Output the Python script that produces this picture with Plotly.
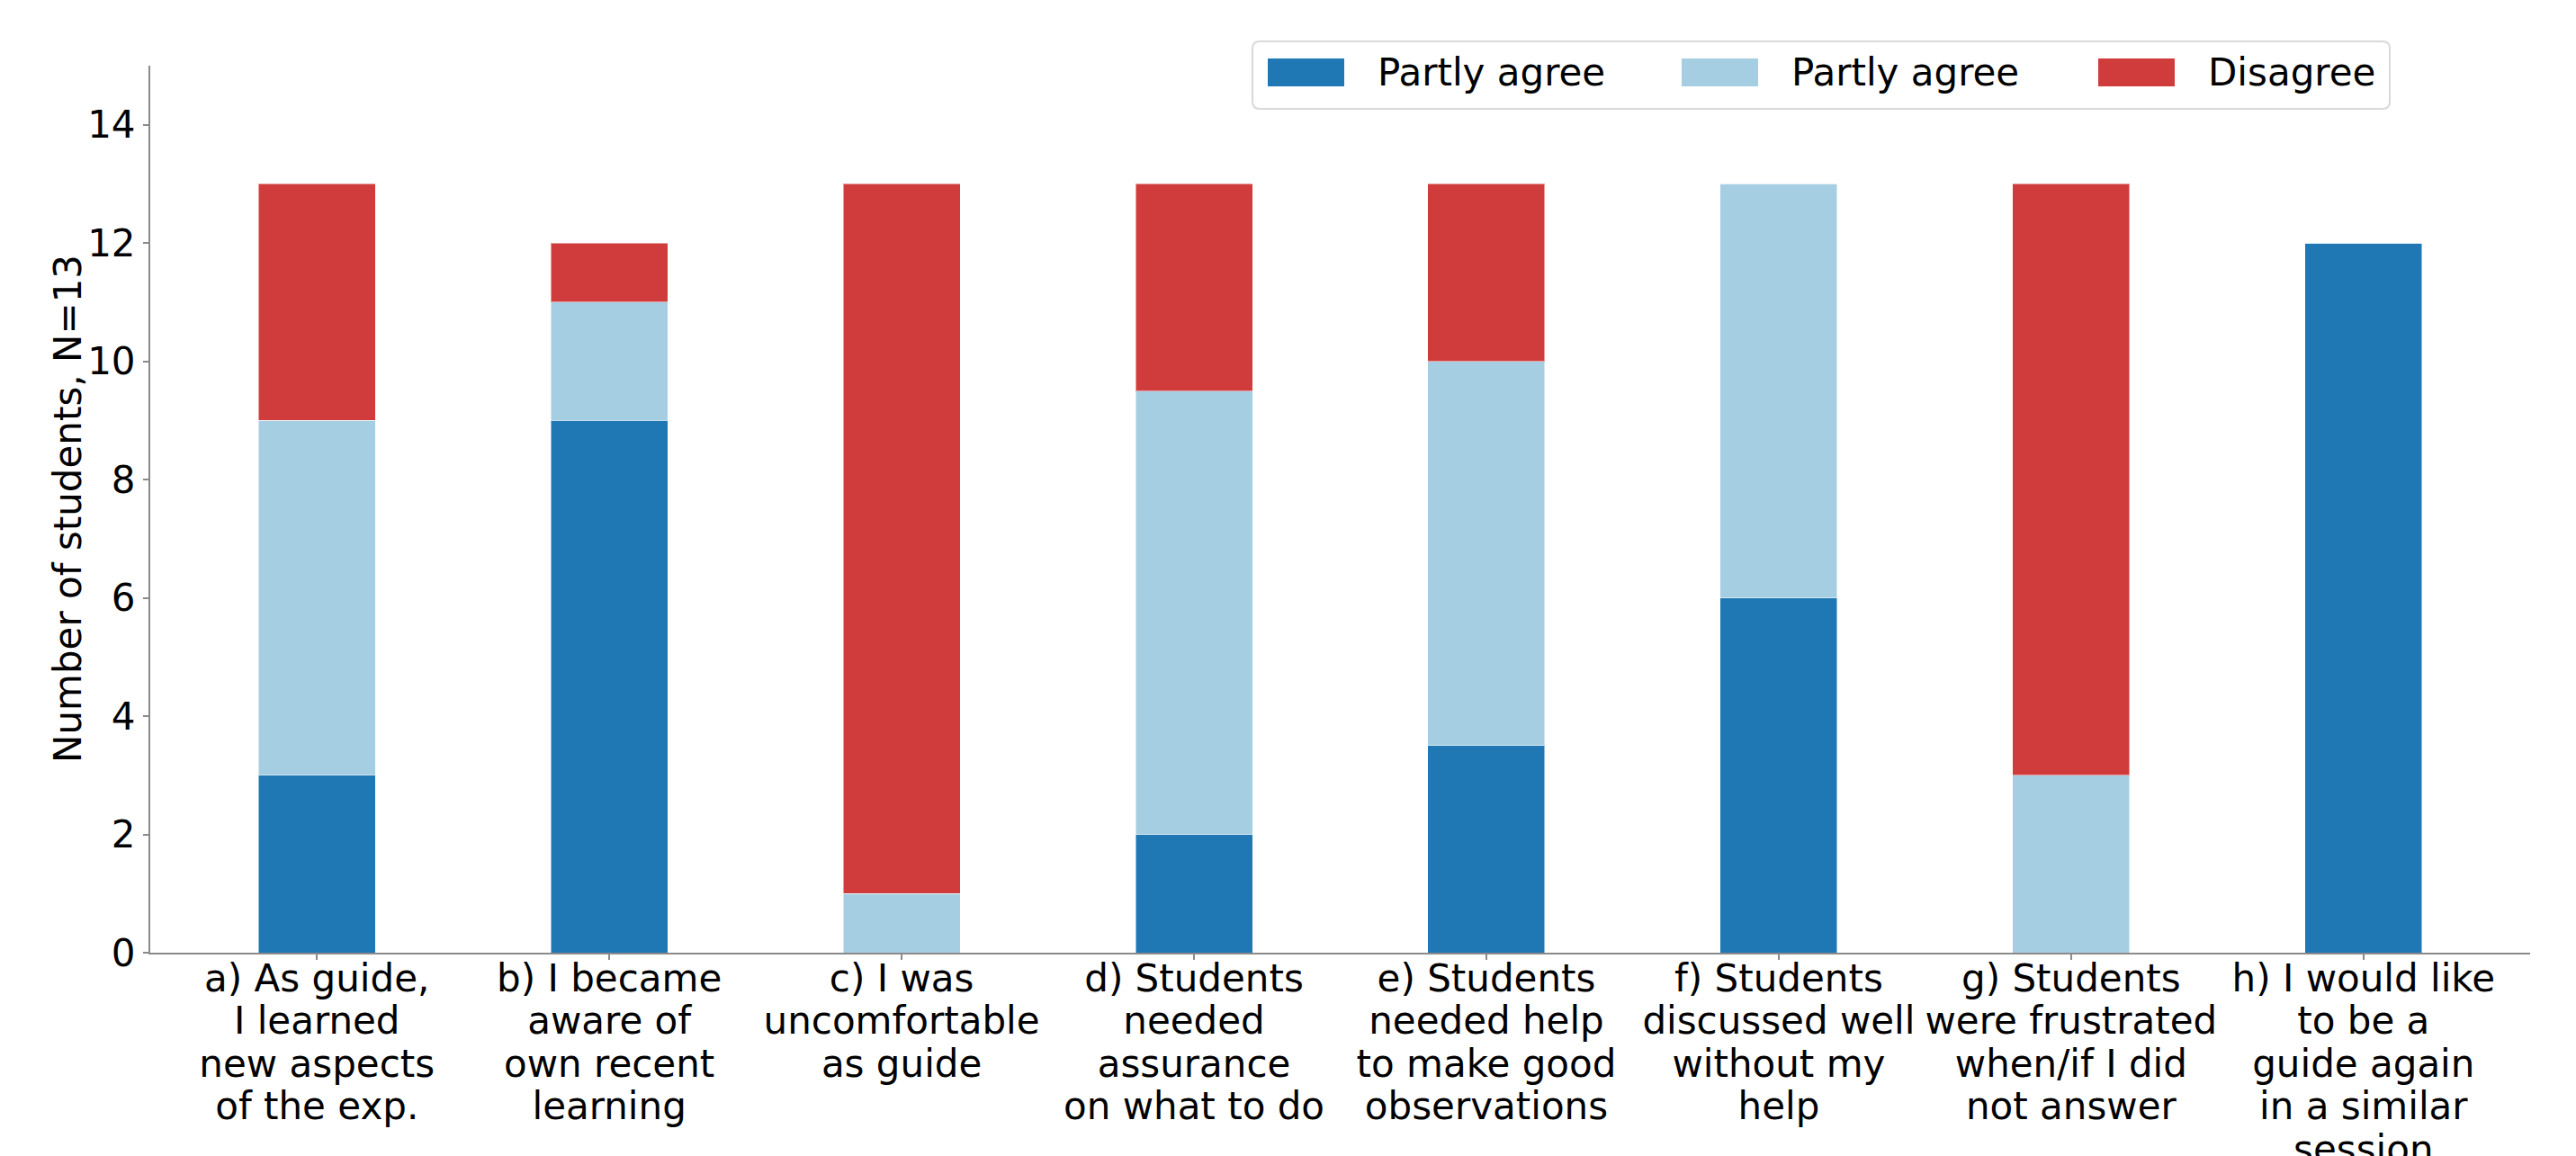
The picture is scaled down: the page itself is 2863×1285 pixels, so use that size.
import plotly.graph_objects as go

# ---- data ----
categories = ["a", "b", "c", "d", "e", "f", "g", "h"]
tick_lines = [
    ["a) As guide,", "I learned", "new aspects", "of the exp."],
    ["b) I became", "aware of", "own recent", "learning"],
    ["c) I was", "uncomfortable", "as guide"],
    ["d) Students", "needed", "assurance", "on what to do"],
    ["e) Students", "needed help", "to make good", "observations"],
    ["f) Students", "discussed well", "without my", "help"],
    ["g) Students", "were frustrated", "when/if I did", "not answer"],
    ["h) I would like", "to be a", "guide again", "in a similar", "session"],
]
series_names = ["Partly agree", "Partly agree", "Disagree"]
agree_values = [3, 9, 0, 2, 3.5, 6, 0, 12]
partly_values = [6, 2, 1, 7.5, 6.5, 7, 3, 0]
disagree_values = [4, 1, 12, 3.5, 3, 0, 10, 0]
y_ticks = [0, 2, 4, 6, 8, 10, 12, 14]
y_title = "Number of students, N=13"

colors = ["#1f77b4", "#a6cee3", "#d03c3b"]
series_values = [agree_values, partly_values, disagree_values]

W, H = 2863, 1285
ML, MR, MT, MB = 167, 51, 73, 226
PW, PH = W - ML - MR, H - MT - MB
FONT = "DejaVu Sans"
FS = 42


def px_x(px):
    return (px - ML) / PW


def px_y(py):
    return (H - MB - py) / PH


fig = go.Figure()
for name, vals, col in zip(series_names, series_values, colors):
    fig.add_trace(go.Bar(
        x=categories, y=vals, name=name, width=0.4,
        marker=dict(color=col, line=dict(width=1, color="rgba(255,255,255,0.5)")),
        showlegend=False,
    ))

ticktext = ["<br>".join(f'<span style="font-size:{FS}px">{l}</span>' for l in lines)
            for lines in tick_lines]

fig.update_layout(
    width=W, height=H,
    margin=dict(l=ML, r=MR, t=MT, b=MB, pad=0),
    barmode="stack",
    paper_bgcolor="white", plot_bgcolor="white",
    font=dict(family=FONT, size=FS, color="black"),
    xaxis=dict(
        range=[-0.57, 7.57], tickvals=categories, ticktext=ticktext,
        tickfont=dict(size=36.5, family=FONT, color="black"),
        showline=True, linecolor="#8a8a8a", linewidth=2,
        ticks="outside", ticklen=6, tickwidth=1.5, tickcolor="#8a8a8a",
        ticklabelstandoff=-9,
        showgrid=False, zeroline=False, automargin=False,
    ),
    yaxis=dict(
        range=[0, 15], tickvals=y_ticks,
        tickfont=dict(size=FS, family=FONT, color="black"),
        showline=True, linecolor="#8a8a8a", linewidth=2,
        ticks="outside", ticklen=6, tickwidth=1.5, tickcolor="#8a8a8a",
        showgrid=False, zeroline=False, automargin=False,
    ),
)

# y-axis title
fig.add_annotation(text=y_title, xref="paper", yref="paper",
                   x=px_x(75), y=0.5, xanchor="center", yanchor="middle",
                   textangle=-90, showarrow=False,
                   font=dict(size=FS, family=FONT, color="black"))

# ---- legend drawn as a box with swatches ----
bx0, bx1, by0, by1 = 1392, 2656, 46, 121
r = 8
x0, x1 = px_x(bx0), px_x(bx1)
y0, y1 = px_y(by1), px_y(by0)
rx, ry = r / PW, r / PH
path = (f"M{x0+rx},{y1} L{x1-rx},{y1} Q{x1},{y1} {x1},{y1-ry} "
        f"L{x1},{y0+ry} Q{x1},{y0} {x1-rx},{y0} L{x0+rx},{y0} "
        f"Q{x0},{y0} {x0},{y0+ry} L{x0},{y1-ry} Q{x0},{y1} {x0+rx},{y1} Z")
fig.add_shape(type="path", path=path, xref="paper", yref="paper",
              line=dict(color="#d9d9d9", width=2), fillcolor="rgba(255,255,255,0.8)")

swatch_x = [1409, 1869, 2332]
for sx, name, col in zip(swatch_x, series_names, colors):
    fig.add_shape(type="rect", xref="paper", yref="paper",
                  x0=px_x(sx), x1=px_x(sx + 85), y0=px_y(96), y1=px_y(65),
                  line=dict(width=0), fillcolor=col)
    fig.add_annotation(text=name, xref="paper", yref="paper",
                       x=px_x(sx + 120), y=px_y(80), xanchor="left", yanchor="middle",
                       showarrow=False, font=dict(size=FS, family=FONT, color="black"))

fig.write_html("out.html")
